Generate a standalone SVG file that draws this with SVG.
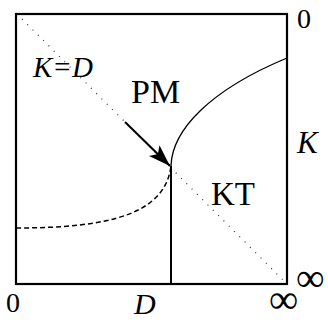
<svg xmlns="http://www.w3.org/2000/svg" width="328" height="322" viewBox="0 0 328 322">
<style>
.box{fill:none;stroke:#000;stroke-width:2.2}
.dot{fill:none;stroke:#333;stroke-width:1.2;stroke-dasharray:1 6.5}
.dash{fill:none;stroke:#000;stroke-width:1.5;stroke-dasharray:5 3}
.sol{fill:none;stroke:#000;stroke-width:1.3}
.arr{fill:none;stroke:#000;stroke-width:2}
</style>
<defs>
<marker id="ah" markerUnits="userSpaceOnUse" markerWidth="24" markerHeight="16" refX="22" refY="7.5" orient="auto">
<path d="M0,0 L22,7.5 L0,15 L5,7.5 Z" fill="#000"/>
</marker>
</defs>
<g id="frame">
<rect class="box" x="16" y="14" width="271" height="270"/>
</g>
<g id="connectors">
<line class="dot" x1="22" y1="19" x2="284" y2="281"/>
<path class="dash" d="M16,228 C110,228 165,214 171,166"/>
<line x1="171" y1="166" x2="171" y2="284" stroke="#000" stroke-width="2"/>
<path class="sol" d="M171,166 C172,130 210,90 287,58"/>
<line class="arr" x1="125" y1="122" x2="170" y2="166" marker-end="url(#ah)"/>
</g>
<g id="labels" fill="#000">
<text font-family="Liberation Serif, serif" font-style="italic" x="33" y="77" font-size="29">K=D</text>
<text font-family="Liberation Serif, serif" x="131" y="103" font-size="34">PM</text>
<text font-family="Liberation Serif, serif" x="211" y="205" font-size="33">KT</text>
<text font-family="Liberation Serif, serif" font-style="italic" x="297" y="153" font-size="31">K</text>
<text font-family="Liberation Serif, serif" x="297" y="28" font-size="28">0</text>
<text font-family="Liberation Serif, serif" x="6" y="312" font-size="28">0</text>
<text font-family="Liberation Serif, serif" font-style="italic" x="134" y="314" font-size="30">D</text>
<text font-family="Liberation Serif, serif" x="296" y="291" font-size="40">∞</text>
<text font-family="Liberation Serif, serif" x="269" y="313" font-size="41">∞</text>
</g>
</svg>
